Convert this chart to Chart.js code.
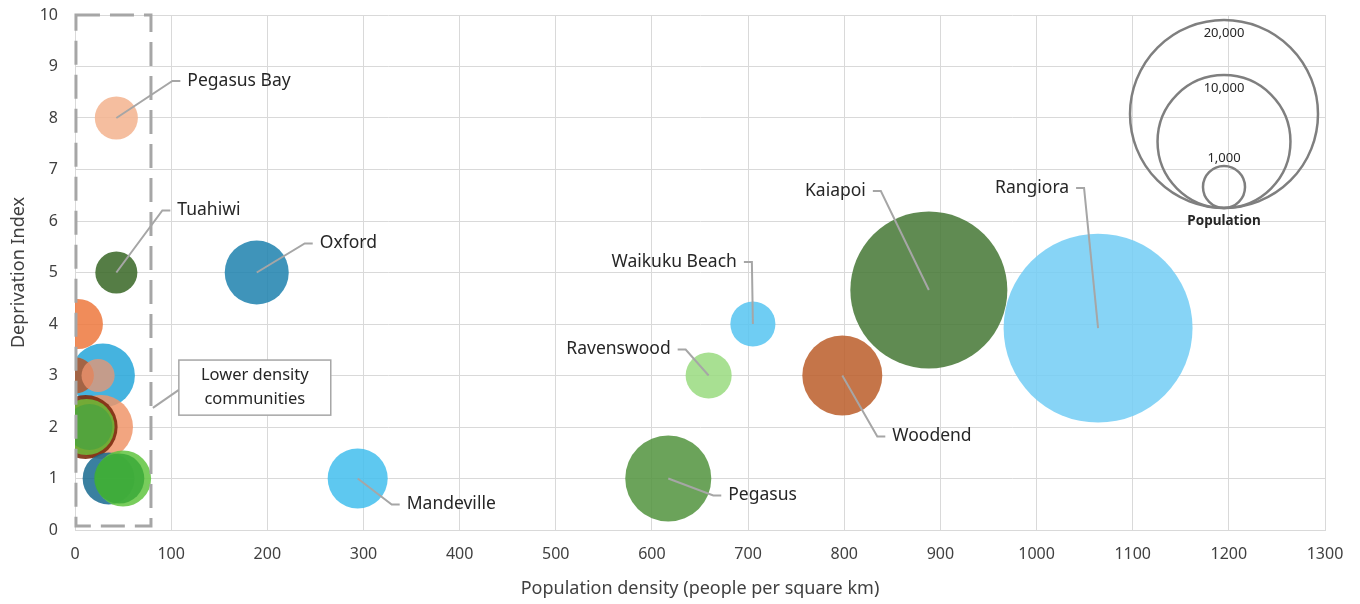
<!DOCTYPE html>
<html>
<head>
<meta charset="utf-8">
<script src="https://cdn.jsdelivr.net/npm/chart.js@4.4.1/dist/chart.umd.min.js"></script>
<style>
  html, body { margin: 0; padding: 0; background: #fff; }
</style>
</head>
<body>
<canvas id="bubbles" width="1360" height="604"></canvas>
<script>
// one entry per community (unnamed ones are the small unlabelled places near the axis)
const communities = ['', '', '', '', '', '', '', '', '', '', '',
  'Tuahiwi', 'Pegasus Bay', 'Oxford', 'Mandeville', 'Ravenswood', 'Waikuku Beach',
  'Pegasus', 'Woodend', 'Kaiapoi', 'Rangiora'];
const density     = [3, 29, 1, 24, 27, 11, 12, 15, 35, 50, 46,
  43, 43, 189, 294, 659, 705, 617, 798, 888, 1064];
const deprivation = [4, 3, 3, 3, 2, 2, 2, 2, 1, 1, 1,
  5, 8, 5, 1, 3, 4, 1, 3, 4.66, 3.92];
const population  = [1420, 2320, 730, 620, 2320, 2320, 1780, 1200, 1530, 1780, 1420,
  1000, 1050, 2320, 2040, 1200, 1150, 4190, 3620, 13950, 20200];

const colours = [
  'rgba(237,120,61,0.85)', 'rgba(36,166,217,0.85)', 'rgba(181,87,42,0.85)', 'rgba(240,150,112,0.75)',
  'rgba(240,149,106,0.85)', 'rgba(125,45,15,0.9)', 'rgba(112,190,60,0.85)', 'rgba(78,163,62,0.85)',
  'rgba(23,106,143,0.85)', 'rgba(96,196,64,0.85)', 'rgba(60,170,58,0.85)',
  'rgba(55,102,37,0.85)', 'rgba(243,179,142,0.85)', 'rgba(29,129,174,0.85)', 'rgba(66,190,237,0.85)',
  'rgba(153,218,127,0.85)', 'rgba(86,196,241,0.85)', 'rgba(81,147,61,0.85)', 'rgba(187,93,41,0.85)',
  'rgba(68,119,52,0.85)', 'rgba(114,205,244,0.85)'
];

const legendSizes = [20000, 10000, 1000];

// label elbow offsets (px from the bubble centre) and which side the text sits
const callouts = {
  'Pegasus Bay':   [56, -37, 'right'],
  'Tuahiwi':       [46, -62, 'right'],
  'Oxford':        [48, -29, 'right'],
  'Mandeville':    [34, 26, 'right'],
  'Pegasus':       [45, 17, 'right'],
  'Woodend':       [35, 61, 'right'],
  'Waikuku Beach': [-1, -62, 'left'],
  'Ravenswood':    [-23, -26, 'left'],
  'Kaiapoi':       [-48, -99, 'left'],
  'Rangiora':      [-14, -140, 'left']
};

const FONT = "'Noto Sans', sans-serif";
const GREY = '#A6A6A6';

function radiusFor(pop) {
  return 94 * Math.sqrt(pop / 20000);
}

const points = density.map((d, i) => ({ x: d, y: deprivation[i], r: radiusFor(population[i]) }));

const extras = {
  id: 'extras',
  afterDatasetsDraw(chart) {
    const ctx = chart.ctx;
    const xs = chart.scales.x, ys = chart.scales.y;
    const area = chart.chartArea;
    ctx.save();

    // dashed box round the low density group
    ctx.strokeStyle = GREY;
    ctx.lineWidth = 3;
    ctx.setLineDash([24, 10]);
    const bx0 = xs.getPixelForValue(1), bx1 = xs.getPixelForValue(79);
    const by0 = ys.getPixelForValue(10), by1 = ys.getPixelForValue(0.08);
    ctx.strokeRect(bx0, by0, bx1 - bx0, by1 - by0);
    ctx.setLineDash([]);

    // "Lower density communities" callout
    const cx0 = xs.getPixelForValue(108), cx1 = xs.getPixelForValue(266);
    const cy0 = ys.getPixelForValue(3.3), cy1 = ys.getPixelForValue(2.23);
    ctx.lineWidth = 2;
    ctx.beginPath();
    ctx.moveTo(xs.getPixelForValue(81), ys.getPixelForValue(2.37));
    ctx.lineTo(cx0, ys.getPixelForValue(2.72));
    ctx.stroke();
    ctx.fillStyle = '#fff';
    ctx.fillRect(cx0, cy0, cx1 - cx0, cy1 - cy0);
    ctx.lineWidth = 1.5;
    ctx.strokeRect(cx0, cy0, cx1 - cx0, cy1 - cy0);
    ctx.fillStyle = '#262626';
    ctx.font = '16.5px ' + FONT;
    ctx.textAlign = 'center';
    ctx.textBaseline = 'middle';
    const mid = (cx0 + cx1) / 2, midY = (cy0 + cy1) / 2;
    ctx.fillText('Lower density', mid, midY - 12);
    ctx.fillText('communities', mid, midY + 12);

    // leader lines and labels
    ctx.font = '17.5px ' + FONT;
    ctx.lineWidth = 2;
    const meta = chart.getDatasetMeta(0);
    communities.forEach((name, i) => {
      const c = callouts[name];
      if (!c) return;
      const el = meta.data[i];
      const ex = el.x + c[0], ey = el.y + c[1];
      const dir = c[2] === 'right' ? 1 : -1;
      ctx.strokeStyle = GREY;
      ctx.beginPath();
      ctx.moveTo(el.x, el.y);
      ctx.lineTo(ex, ey);
      ctx.lineTo(ex + dir * 8, ey);
      ctx.stroke();
      ctx.fillStyle = '#262626';
      ctx.textAlign = dir > 0 ? 'left' : 'right';
      ctx.fillText(name, ex + dir * 15, ey);
    });

    // bubble size legend
    const lx = area.right - 101, lb = area.top + 193;
    ctx.strokeStyle = '#7F7F7F';
    ctx.lineWidth = 2.5;
    ctx.fillStyle = '#262626';
    ctx.font = '13px ' + FONT;
    ctx.textAlign = 'center';
    legendSizes.forEach((s, k) => {
      const r = radiusFor(s);
      ctx.beginPath();
      ctx.arc(lx, lb - r, r, 0, Math.PI * 2);
      ctx.stroke();
      const ty = k === legendSizes.length - 1 ? lb - 2 * r - 8 : lb - 2 * r + 13;
      ctx.fillText(s.toLocaleString('en-US'), lx, ty);
    });
    ctx.font = 'bold 13.5px ' + FONT;
    ctx.fillText('Population', lx, lb + 13);

    ctx.restore();
  }
};

new Chart(document.getElementById('bubbles'), {
  type: 'bubble',
  data: {
    labels: communities,
    datasets: [{
      data: points,
      backgroundColor: colours,
      borderWidth: 0,
      hoverBorderWidth: 0,
      clip: 0
    }]
  },
  options: {
    responsive: false,
    animation: false,
    layout: { autoPadding: false, padding: { top: 15, right: 35, left: 0, bottom: 0 } },
    plugins: {
      legend: { display: false },
      tooltip: { enabled: false }
    },
    scales: {
      x: {
        type: 'linear',
        min: 0,
        max: 1300,
        ticks: { stepSize: 100, padding: 15, color: '#404040', font: { family: FONT, size: 16 },
                 callback: (v) => String(v) },
        grid: { color: '#D9D9D9', drawTicks: false },
        border: { color: '#D9D9D9' },
        title: {
          display: true,
          text: 'Population density (people per square km)',
          color: '#404040',
          font: { family: FONT, size: 18 },
          padding: { top: 0, bottom: 4 }
        },
        afterFit: (s) => { s.height = 74; }
      },
      y: {
        min: 0,
        max: 10,
        ticks: { stepSize: 1, padding: 17, color: '#404040', font: { family: FONT, size: 16 } },
        grid: { color: '#D9D9D9', drawTicks: false },
        border: { color: '#D9D9D9' },
        title: {
          display: true,
          text: 'Deprivation Index',
          color: '#404040',
          font: { family: FONT, size: 18 },
          padding: { top: 8, bottom: 0 }
        },
        afterFit: (s) => { s.width = 75; s.paddingTop = 10; s.paddingBottom = 10; }
      }
    }
  },
  plugins: [extras]
});
</script>
</body>
</html>
